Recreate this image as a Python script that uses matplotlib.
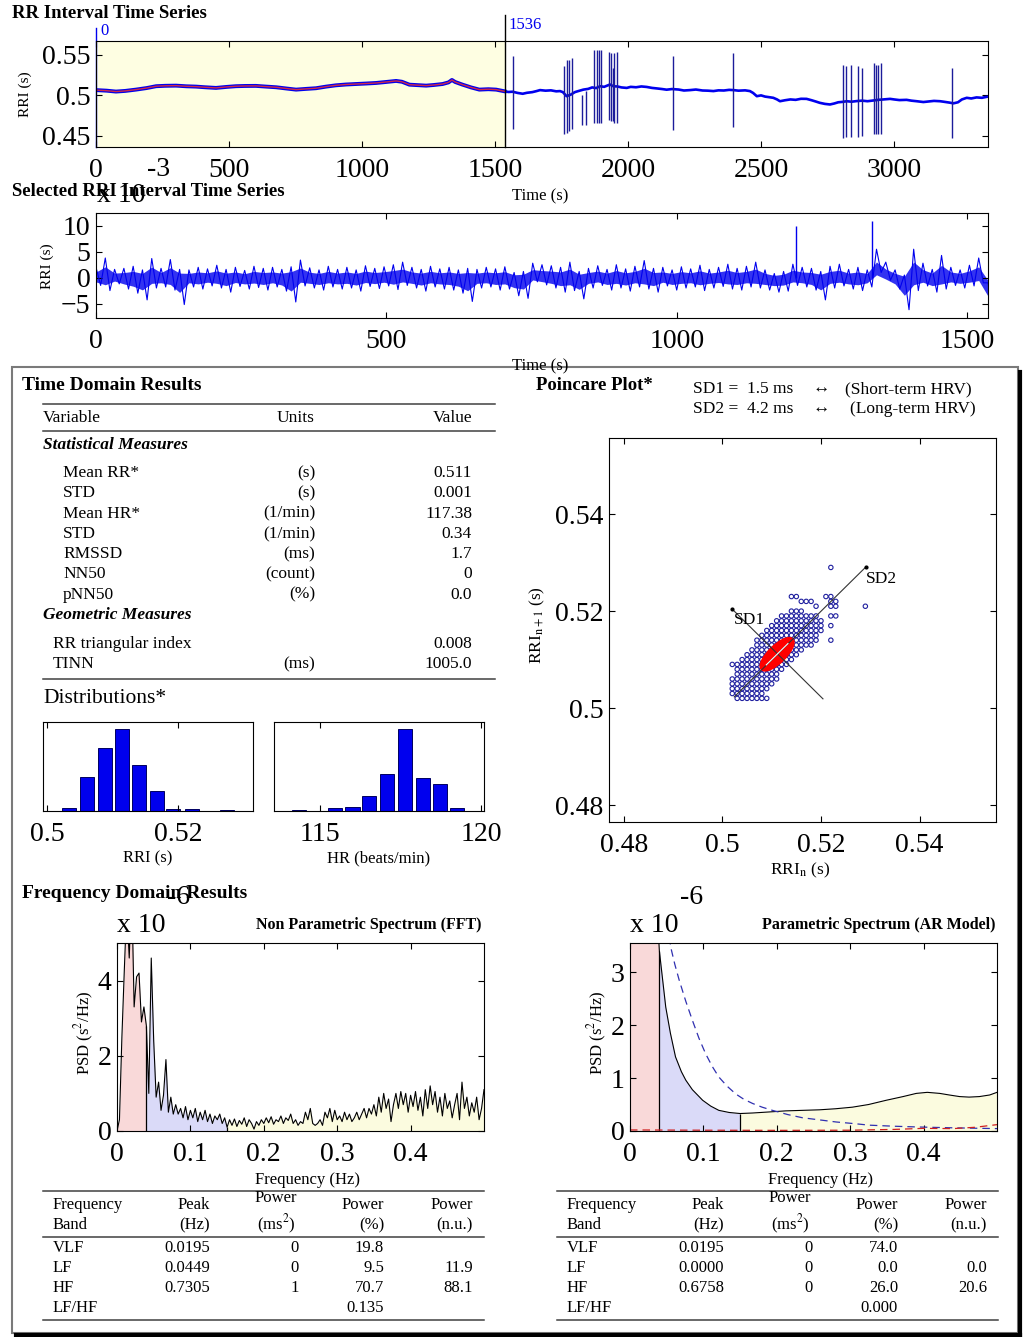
import numpy as np
import matplotlib
matplotlib.use('Agg')
import matplotlib.pyplot as plt
from matplotlib.lines import Line2D
from matplotlib.patches import Rectangle, Ellipse

plt.rcParams['font.family'] = ['Liberation Serif', 'DejaVu Sans']
plt.rcParams['mathtext.fontset'] = 'stix'
plt.rcParams['xtick.direction'] = 'in'
plt.rcParams['ytick.direction'] = 'in'
plt.rcParams['xtick.top'] = True
plt.rcParams['ytick.right'] = True
plt.rcParams['xtick.major.size'] = 4
plt.rcParams['ytick.major.size'] = 4
plt.rcParams['xtick.major.pad'] = 8
plt.rcParams['ytick.major.pad'] = 4

# ---- data: full RR interval series (s) ----
rri_t = [0, 40, 75, 110, 150, 190, 226, 260, 301, 340, 376, 410, 451, 490, 526, 560, 601, 640,
         677, 715, 752, 790, 827, 865, 902, 940, 977, 1015, 1053, 1090, 1128, 1150, 1178, 1210,
         1241, 1270, 1303, 1325, 1338, 1350, 1378, 1410, 1441, 1475, 1504, 1536,
         1550, 1566, 1585, 1604, 1620, 1640, 1655, 1669, 1690, 1710, 1730, 1744, 1755, 1769,
         1785, 1800, 1815, 1832, 1850, 1865, 1880, 1895, 1910, 1932, 1945, 1960, 1975, 1995,
         2010, 2030, 2050, 2070, 2090, 2110, 2128, 2145, 2165, 2190, 2210, 2233, 2255, 2280,
         2300, 2321, 2340, 2360, 2380, 2396, 2415, 2440, 2458, 2470, 2484, 2500, 2515, 2530,
         2546, 2560, 2571, 2590, 2610, 2630, 2650, 2671, 2690, 2705, 2721, 2740, 2759, 2775,
         2790, 2806, 2822, 2840, 2860, 2880, 2900, 2922, 2940, 2960, 2985, 3000, 3020, 3047,
         3065, 3085, 3110, 3130, 3150, 3173, 3190, 3210, 3223, 3240, 3255, 3273, 3290, 3310,
         3330, 3348]
rri_v = [0.5065, 0.5058, 0.5047, 0.5055, 0.5071, 0.5090, 0.5113, 0.5118, 0.5120, 0.5112, 0.5108,
         0.5100, 0.5092, 0.5104, 0.5113, 0.5116, 0.5117, 0.5108, 0.5100, 0.5085, 0.5071, 0.5080,
         0.5088, 0.5108, 0.5124, 0.5134, 0.5140, 0.5146, 0.5153, 0.5165, 0.5178, 0.5168, 0.5132,
         0.5126, 0.5120, 0.5128, 0.5140, 0.5160, 0.5190, 0.5165, 0.5132, 0.5098, 0.5071, 0.5076,
         0.5071, 0.5050,
         0.5042, 0.5045, 0.5030, 0.5020, 0.5032, 0.5040, 0.5052, 0.5065, 0.5058, 0.5062, 0.5050,
         0.5053, 0.5040, 0.4990, 0.5010, 0.5040, 0.5055, 0.5071, 0.5080, 0.5098, 0.5090, 0.5113,
         0.5105, 0.5134, 0.5112, 0.5110, 0.5098, 0.5092, 0.5105, 0.5100, 0.5110, 0.5104, 0.5092,
         0.5085, 0.5078, 0.5070, 0.5078, 0.5072, 0.5060, 0.5065, 0.5072, 0.5060, 0.5058, 0.5053,
         0.5062, 0.5060, 0.5068, 0.5065, 0.5058, 0.5062, 0.5053, 0.5030, 0.4990, 0.5000, 0.4985,
         0.4978, 0.4970, 0.4950, 0.4928, 0.4940, 0.4950, 0.4945, 0.4958, 0.4957, 0.4940, 0.4925,
         0.4908, 0.4895, 0.4888, 0.4900, 0.4915, 0.4920, 0.4928, 0.4922, 0.4930, 0.4935, 0.4928,
         0.4937, 0.4945, 0.4950, 0.4957, 0.4950, 0.4942, 0.4945, 0.4935, 0.4928, 0.4918, 0.4925,
         0.4932, 0.4928, 0.4920, 0.4910, 0.4902, 0.4915, 0.4950, 0.4970, 0.4962, 0.4975, 0.4970,
         0.4982]
sel_start, sel_end = 0, 1536

# ectopic spikes: time (s), upper and lower extreme (s)
spike_t = [1566, 1760, 1772, 1779, 1791, 1826, 1841, 1873, 1882, 1890, 1898, 1930, 1936, 1942,
           1948, 1957, 2168, 2396, 2807, 2819, 2838, 2866, 2881, 2926, 2932, 2940, 2951, 3217]
spike_hi = [0.548, 0.536, 0.544, 0.544, 0.546, 0.500, 0.505, 0.556, 0.556, 0.556, 0.556, 0.554,
            0.552, 0.534, 0.552, 0.554, 0.548, 0.552, 0.537, 0.536, 0.537, 0.536, 0.534, 0.540,
            0.538, 0.538, 0.540, 0.534]
spike_lo = [0.458, 0.452, 0.454, 0.456, 0.458, 0.464, 0.464, 0.466, 0.466, 0.466, 0.466, 0.470,
            0.468, 0.468, 0.466, 0.466, 0.457, 0.461, 0.447, 0.449, 0.449, 0.449, 0.450, 0.452,
            0.452, 0.452, 0.452, 0.447]

# ---- data: selected, detrended series (x 1e-3 s), sampled every 16 s: upper / lower extremes ----
sel_t = list(range(0, 1537, 16))
sel_hi = [2.0, 3.8, 1.6, 1.8, 2.2, 1.5, 3.7, 1.8, 3.5, 1.6, 1.5, 2.0, 1.7, 2.4, 1.6, 2.0, 1.4,
          2.2, 1.8, 2.0, 1.6, 2.1, 3.4, 1.9, 1.5, 2.2, 1.6, 2.0, 1.5, 2.3, 1.8, 2.1, 2.5, 3.0,
          2.0, 1.6, 2.2, 1.7, 2.0, 1.5, 1.8, 1.6, 2.0, 1.7, 2.1, 1.0, 1.2, 2.8, 2.5, 2.3, 2.0,
          3.0, 1.2, 1.8, 2.3, 1.6, 2.5, 1.7, 2.2, 3.3, 1.8, 2.0, 1.5, 2.1, 1.7, 2.4, 1.6, 2.0,
          2.6, 1.8, 2.2, 3.0, 1.5, 0.8, 1.2, 2.6, 2.0, 1.8, 1.2, 2.2, 2.6, 1.6, 2.0, 1.5, 5.5,
          3.0, 1.5, 0.5, 5.5, 2.8, 1.6, 4.3, 2.0, 1.5, 2.4, 3.8, -1.0]
sel_lo = [-1.5, -2.5, -1.2, -2.2, -3.0, -4.3, -2.0, -1.8, -2.4, -5.2, -1.8, -2.2, -1.6, -2.0,
          -2.8, -1.7, -2.2, -1.9, -2.4, -1.8, -2.6, -4.7, -1.6, -2.0, -2.4, -1.8, -2.2, -2.0,
          -2.6, -1.7, -2.1, -1.6, -2.3, -1.5, -2.0, -2.6, -1.8, -2.2, -2.4, -3.0, -4.6, -2.0,
          -1.8, -2.4, -2.2, -3.5, -4.0, -0.8, -1.4, -2.0, -2.8, -2.5, -4.1, -2.0, -1.5, -2.4,
          -2.0, -2.6, -1.8, -2.2, -2.8, -1.6, -2.4, -2.0, -1.8, -2.5, -2.0, -1.7, -2.2, -2.4,
          -1.8, -2.0, -2.4, -2.8, -2.6, -1.5, -1.8, -2.4, -4.3, -2.0, -1.6, -2.2, -2.5, -1.8,
          1.0, -0.5, -2.2, -6.2, -2.5, -1.6, -2.8, -2.2, -1.5, -2.0, -1.6, -1.0, -6.5]
sel_spike_t = [1205, 1336]
sel_spike_v = [10.0, 11.0]

# ---- time domain table ----
stat_names = ['Mean RR*', 'STD', 'Mean HR*', 'STD', 'RMSSD', 'NN50', 'pNN50']
stat_units = ['(s)', '(s)', '(1/min)', '(1/min)', '(ms)', '(count)', '(%)']
stat_values = ['0.511', '0.001', '117.38', '0.34', '1.7', '0', '0.0']
geo_names = ['RR triangular index', 'TINN']
geo_units = ['', '(ms)']
geo_values = ['0.008', '1005.0']

# ---- distributions ----
rri_bins = [0.50336, 0.50611, 0.50885, 0.51145, 0.51405, 0.51679, 0.51924, 0.52214, 0.52481, 0.52748]
rri_counts = [4, 40, 74, 96, 54, 23, 2, 2, 0, 1]
hr_bins = [114.35, 114.91, 115.47, 116.00, 116.52, 117.08, 117.64, 118.20, 118.73, 119.25]
hr_counts = [1, 0, 3, 5, 17, 43, 96, 38, 31, 3]

# ---- poincare: rows of the point cloud (ms above 500): y, first x, last x ----
pc_rows = [(502, 503, 509), (503, 502, 508), (504, 502, 509), (505, 502, 510), (506, 502, 511),
           (507, 503, 511), (508, 503, 512), (509, 502, 513), (510, 504, 514), (511, 505, 515),
           (512, 506, 516), (513, 507, 518), (514, 507, 519), (515, 508, 519), (516, 509, 520),
           (517, 510, 520), (518, 511, 520), (519, 512, 519), (520, 514, 516)]
pc_extra_x = [522, 517, 519, 522, 521, 522, 522, 523, 523, 522, 514, 522, 529, 515, 516, 518, 523, 522]
pc_extra_y = [514, 522, 521, 523, 523, 522, 521, 521, 522, 517, 523, 519, 521, 523, 522, 522, 519, 529]
sd1, sd2 = 1.5, 4.2
rr_mean = 0.5111
sd1_line_x = [0.5020, 0.5204]
sd1_line_y = [0.5204, 0.5019]
sd2_line_x = [0.5024, 0.5291]
sd2_line_y = [0.5023, 0.5291]

# ---- spectra (x 1e-6 s^2/Hz) ----
fft_psd = [0.0, 0.3, 2.5, 4.3, 6.0, 4.6, 6.5, 3.3, 4.1, 4.2, 2.9, 3.3, 2.8, 1.0, 4.6, 2.4, 0.9,
           1.3, 0.55, 0.95, 1.9, 0.5, 0.9, 0.45, 0.7, 0.45, 0.6, 0.35, 0.65, 0.3, 0.55, 0.35, 0.6,
           0.25, 0.5, 0.3, 0.55, 0.25, 0.45, 0.2, 0.4, 0.3, 0.45, 0.2, 0.35, 0.1, 0.3, 0.15, 0.32,
           0.12, 0.28, 0.18, 0.35, 0.12, 0.3, 0.2, 0.05, 0.25, 0.15, 0.3, 0.2, 0.35, 0.22, 0.38,
           0.18, 0.3, 0.25, 0.4, 0.2, 0.35, 0.28, 0.45, 0.2, 0.3, 0.15, 0.25, 0.2, 0.5, 0.3, 0.6,
           0.2, 0.15, 0.2, 0.3, 0.15, 0.5, 0.35, 0.6, 0.25, 0.55, 0.3, 0.4, 0.25, 0.5, 0.3, 0.45,
           0.25, 0.35, 0.5, 0.3, 0.45, 0.6, 0.35, 0.6, 0.45, 0.7, 0.4, 0.9, 0.5, 1.0, 0.6, 0.85,
           0.25, 0.7, 1.0, 0.6, 1.05, 0.7, 1.0, 0.5, 0.95, 0.65, 1.05, 0.55, 0.9, 0.4, 1.1, 0.6,
           1.2, 0.7, 1.05, 0.5, 0.9, 0.4, 1.0, 0.6, 0.8, 0.35, 0.7, 1.0, 0.3, 1.3, 0.6, 0.9, 0.4,
           0.75, 0.5, 0.9, 0.3, 0.6, 1.1]
fft_freq = [i / 300 for i in range(len(fft_psd))]

ar_freq = [0.0, 0.01, 0.02, 0.03, 0.04, 0.0487, 0.055, 0.062, 0.07, 0.076, 0.085, 0.099, 0.11,
           0.121, 0.135, 0.15, 0.167, 0.19, 0.212, 0.235, 0.258, 0.28, 0.303, 0.325, 0.349,
           0.372, 0.39, 0.405, 0.422, 0.435, 0.449, 0.462, 0.476, 0.49, 0.5]
ar_psd = [40, 22, 11, 6.0, 3.4, 2.34, 1.85, 1.40, 1.12, 0.96, 0.78, 0.58, 0.47, 0.39, 0.35, 0.33,
          0.34, 0.36, 0.38, 0.39, 0.40, 0.42, 0.45, 0.50, 0.58, 0.65, 0.71, 0.73, 0.71, 0.68,
          0.65, 0.64, 0.65, 0.68, 0.73]
ar_lf_freq = [0.045, 0.0555, 0.061, 0.067, 0.076, 0.085, 0.094, 0.103, 0.112, 0.121, 0.132, 0.144,
              0.155, 0.167, 0.18, 0.194, 0.215, 0.235, 0.258, 0.281, 0.305, 0.326, 0.36, 0.394,
              0.44, 0.5]
ar_lf_psd = [4.6, 3.47, 3.15, 2.85, 2.45, 2.09, 1.75, 1.46, 1.22, 1.02, 0.85, 0.70, 0.60, 0.52,
             0.45, 0.39, 0.31, 0.25, 0.21, 0.17, 0.14, 0.11, 0.09, 0.075, 0.06, 0.045]
ar_hf_freq = [0.0, 0.1, 0.2, 0.3, 0.36, 0.4, 0.44, 0.47, 0.5]
ar_hf_psd = [0.02, 0.015, 0.012, 0.015, 0.03, 0.05, 0.045, 0.07, 0.12]

vlf_lim, lf_lim, hf_lim = 0.04, 0.15, 0.5
fft_rows = [['VLF', '0.0195', '0', '19.8', ''],
            ['LF', '0.0449', '0', '9.5', '11.9'],
            ['HF', '0.7305', '1', '70.7', '88.1'],
            ['LF/HF', '', '', '0.135', '']]
ar_rows = [['VLF', '0.0195', '0', '74.0', ''],
           ['LF', '0.0000', '0', '0.0', '0.0'],
           ['HF', '0.6758', '0', '26.0', '20.6'],
           ['LF/HF', '', '', '0.000', '']]

# ---- figure helpers (pixel positions) ----
W, H = 1024, 1337
fig = plt.figure(figsize=(W / 100, H / 100), dpi=100)


def add_ax(l, t, r, b):
    return fig.add_axes([l / W, 1 - b / H, (r - l) / W, (b - t) / H])


def txt(x, y, s, **kw):
    kw.setdefault('va', 'center')
    return fig.text(x / W, 1 - y / H, s, **kw)


def hline(y, x0, x1):
    fig.add_artist(Line2D([x0 / W, x1 / W], [1 - y / H, 1 - y / H], color='#404040', lw=1.1))


gfmt = matplotlib.ticker.FormatStrFormatter('%g')
BIG = 20
blue = '#0000ee'

# ---- RR interval time series ----
ax = add_ax(96, 41, 988, 147)
ax.axvspan(sel_start, sel_end, color='#fefee2', lw=0)
n_sel = sum(1 for t in rri_t if t <= sel_end)
ax.plot(rri_t[:n_sel], rri_v[:n_sel], color=blue, lw=2.8)
ax.plot(rri_t[n_sel - 1:], rri_v[n_sel - 1:], color=blue, lw=1.9)
ax.vlines(spike_t, spike_lo, spike_hi, color='#1c1c9a', lw=1.0)
ax.plot(rri_t[:n_sel], rri_v[:n_sel], color='#d02a4a', lw=1.0)
ax.axvline(sel_end, ymax=1.25, color='k', lw=1.0, clip_on=False)
ax.axvline(sel_start, ymax=1.12, color=blue, lw=1.0, clip_on=False)
ax.text(sel_start + 15, 0.5695, str(sel_start), color=blue, fontsize=12, va='bottom')
ax.text(sel_end + 15, 0.5765, str(sel_end), color=blue, fontsize=12, va='bottom')
ax.set_xlim(0, 3353)
ax.set_ylim(0.4364, 0.567)
ax.set_yticks([0.45, 0.5, 0.55])
ax.set_xticks([0, 500, 1000, 1500, 2000, 2500, 3000])
ax.yaxis.set_major_formatter(gfmt)
ax.tick_params(labelsize=BIG)
txt(12, 14, 'RR Interval Time Series', fontsize=13.5, fontweight='bold')
txt(540, 196, 'Time (s)', fontsize=12, ha='center')
txt(25, 94, 'RRI (s)', fontsize=11, rotation=90, ha='center')

# ---- selected RRI (detrended) ----
ax = add_ax(96, 213, 988, 318)
ax.fill_between(sel_t, np.array(sel_hi) * 0.55, np.array(sel_lo) * 0.55, color=blue, alpha=0.8, lw=0)
zt = np.ravel(np.column_stack([sel_t, np.array(sel_t) + 8]))
zv = np.ravel(np.column_stack([sel_hi, sel_lo]))
ax.plot(zt, zv, color=blue, lw=0.8)
ax.vlines(sel_spike_t, 0, sel_spike_v, color=blue, lw=1.0)
ax.set_xlim(0, 1536)
ax.set_ylim(-7.8, 12.5)
ax.set_yticks([-5, 0, 5, 10])
ax.set_xticks([0, 500, 1000, 1500])
ax.tick_params(labelsize=BIG)
txt(12, 192, 'Selected RRI Interval Time Series', fontsize=13.5, fontweight='bold')
txt(97, 195, 'x 10', fontsize=BIG)
txt(147, 170, '-3', fontsize=BIG)
txt(47, 266, 'RRI (s)', fontsize=11, rotation=90, ha='center')

# ---- results frame ----
fig.add_artist(Rectangle((12 / W, 1 - 1333 / H), 1006 / W, 966 / H, transform=fig.transFigure,
                         fill=False, edgecolor='#7a7a7a', lw=1.5))
fig.add_artist(Line2D([1020 / W, 1020 / W], [1 - 372 / H, 1 - 1335 / H], color='k', lw=3))
fig.add_artist(Line2D([16 / W, 1020 / W], [1 - 1335 / H, 1 - 1335 / H], color='k', lw=3))
txt(540, 366, 'Time (s)', fontsize=12, ha='center')

# ---- time domain table ----
TS = 12.5
txt(22, 385, 'Time Domain Results', fontsize=14, fontweight='bold')
hline(404, 43, 495)
hline(431, 43, 495)
hline(679, 43, 495)
txt(43, 418, 'Variable', fontsize=TS)
txt(296, 418, 'Units', fontsize=TS, ha='center')
txt(472, 418, 'Value', fontsize=TS, ha='right')
txt(43, 445, 'Statistical Measures', fontsize=TS, fontweight='bold', style='italic')
for i, (n, u, v) in enumerate(zip(stat_names, stat_units, stat_values)):
    y = 473 + i * 20.3
    txt(63, y, n, fontsize=TS)
    txt(315, y, u, fontsize=TS, ha='right')
    txt(472, y, v, fontsize=TS, ha='right')
txt(43, 615, 'Geometric Measures', fontsize=TS, fontweight='bold', style='italic')
for i, (n, u, v) in enumerate(zip(geo_names, geo_units, geo_values)):
    y = 644 + i * 20
    txt(53, y, n, fontsize=TS)
    txt(315, y, u, fontsize=TS, ha='right')
    txt(472, y, v, fontsize=TS, ha='right')
txt(43, 698, 'Distributions*', fontsize=15.5)

# ---- histograms ----
ax = add_ax(43, 722, 253, 811)
ax.bar(rri_bins, rri_counts, width=0.00214, color=blue, edgecolor='#000060', lw=0.7)
ax.set_xlim(0.4994, 0.5314)
ax.set_ylim(0, 104)
ax.set_xticks([0.5, 0.52])
ax.xaxis.set_major_formatter(gfmt)
ax.set_yticks([])
ax.tick_params(labelsize=BIG, pad=8)
txt(148, 858, 'RRI (s)', fontsize=12, ha='center')

ax = add_ax(274, 722, 484, 811)
ax.bar(hr_bins, hr_counts, width=0.45, color=blue, edgecolor='#000060', lw=0.7)
ax.set_xlim(113.57, 120.09)
ax.set_ylim(0, 104)
ax.set_xticks([115, 120])
ax.set_yticks([])
ax.tick_params(labelsize=BIG, pad=8)
txt(379, 858, 'HR (beats/min)', fontsize=12, ha='center')

# ---- poincare plot ----
pc_x, pc_y = [], []
for yv, x0, x1 in pc_rows:
    for xv in range(x0, x1 + 1):
        pc_x.append(xv / 1000)
        pc_y.append(yv / 1000)
pc_x += [v / 1000 for v in pc_extra_x]
pc_y += [v / 1000 for v in pc_extra_y]

ax = add_ax(609, 438, 996, 822)
ax.scatter(pc_x, pc_y, s=10, facecolors='none', edgecolors='#1f1f9f', linewidths=0.8)
ax.plot(sd2_line_x, sd2_line_y, color='#333333', lw=0.8)
ax.plot(sd1_line_x, sd1_line_y, color='#333333', lw=0.8)
ax.plot(sd2_line_x[1], sd2_line_y[1], marker='o', ms=2, color='k')
ax.plot(sd1_line_x[0], sd1_line_y[0], marker='o', ms=2, color='k')
ax.add_patch(Ellipse((rr_mean, rr_mean), 2 * sd2 / 1000, 2 * sd1 / 1000, angle=45,
                     facecolor='red', edgecolor='red', lw=3))
ax.plot([rr_mean - 0.0022, rr_mean + 0.0022], [rr_mean - 0.0022, rr_mean + 0.0022], color='white', lw=0.8)
ax.text(0.5023, 0.5182, 'SD1', fontsize=12.5, va='center')
ax.text(0.5292, 0.5266, 'SD2', fontsize=12.5, va='center')
ax.set_xlim(0.477, 0.5555)
ax.set_ylim(0.4765, 0.5557)
ax.set_xticks([0.48, 0.5, 0.52, 0.54])
ax.set_yticks([0.48, 0.5, 0.52, 0.54])
ax.xaxis.set_major_formatter(gfmt)
ax.yaxis.set_major_formatter(gfmt)
ax.tick_params(labelsize=BIG)
txt(536, 385, 'Poincare Plot*', fontsize=13.5, fontweight='bold')
txt(693, 389, 'SD1 =  %.1f ms' % sd1, fontsize=12.5)
txt(821, 389, '\u2194', fontsize=12.5, ha='center')
txt(845, 389, '(Short-term HRV)', fontsize=12.5)
txt(693, 409, 'SD2 =  %.1f ms' % sd2, fontsize=12.5)
txt(821, 409, '\u2194', fontsize=12.5, ha='center')
txt(850, 409, '(Long-term HRV)', fontsize=12.5)
txt(800, 870, 'RRI$_{\\mathrm{n}}$ (s)', fontsize=12.5, ha='center')
txt(537, 625, 'RRI$_{\\mathrm{n+1}}$ (s)', fontsize=12.5, rotation=90, ha='center')

# ---- spectra ----
band_cols = ['#f9d9d9', '#dadaf8', '#fbfbdf']


def spectrum_axes(l, r, f, p, ymax, yticks, title):
    ax = add_ax(l, 943, r, 1131)
    f = np.array(f)
    p = np.array(p)
    ax.fill_between(f, p, where=f <= vlf_lim, color=band_cols[0], lw=0)
    ax.fill_between(f, p, where=(f >= vlf_lim) & (f <= lf_lim), color=band_cols[1], lw=0)
    ax.fill_between(f, p, where=f >= lf_lim, color=band_cols[2], lw=0)
    ax.plot(f, p, color='k', lw=0.8)
    for b in (vlf_lim, lf_lim):
        ax.vlines(b, 0, p[np.argmin(abs(f - b))], color='k', lw=0.9)
    ax.set_xlim(0, 0.5)
    ax.set_ylim(0, ymax)
    ax.set_xticks([0, 0.1, 0.2, 0.3, 0.4])
    ax.set_yticks(yticks)
    ax.xaxis.set_major_formatter(gfmt)
    ax.tick_params(labelsize=BIG)
    txt(l, 925, 'x 10', fontsize=BIG)
    txt(l + 50, 898, '-6', fontsize=BIG)
    txt(r - 2, 925, title, fontsize=11.5, fontweight='bold', ha='right')
    txt((l + r) / 2 + 7, 1180, 'Frequency (Hz)', fontsize=12, ha='center')
    txt(l - 33, 1033, 'PSD (s$^2$/Hz)', fontsize=12, rotation=90, ha='center')
    return ax


txt(22, 893, 'Frequency Domain Results', fontsize=14, fontweight='bold')
spectrum_axes(117, 484, fft_freq, fft_psd, 5.0, [0, 2, 4], 'Non Parametric Spectrum (FFT)')
ax = spectrum_axes(630, 997, ar_freq, ar_psd, 3.55, [0, 1, 2, 3], 'Parametric Spectrum (AR Model)')
ax.plot(ar_lf_freq, ar_lf_psd, color='#3030b0', lw=0.9, ls=(0, (6, 4)))
ax.plot(ar_hf_freq, ar_hf_psd, color='#d02020', lw=0.9, ls=(0, (6, 4)))


# ---- frequency tables ----
def freq_table(x0, rows):
    hline(1191, x0 - 10, x0 + 431)
    hline(1237, x0 - 10, x0 + 431)
    hline(1320, x0 - 10, x0 + 431)
    cols = [x0 + 157, x0 + 246, x0 + 331, x0 + 420]
    fs = 12
    txt(x0, 1205, 'Frequency', fontsize=fs)
    txt(x0, 1225, 'Band', fontsize=fs)
    txt(cols[0], 1205, 'Peak', fontsize=fs, ha='right')
    txt(cols[0], 1225, '(Hz)', fontsize=fs, ha='right')
    txt(cols[1] - 23, 1198, 'Power', fontsize=fs, ha='center')
    txt(cols[1] - 23, 1224, '(ms$^2$)', fontsize=fs, ha='center')
    txt(cols[2], 1205, 'Power', fontsize=fs, ha='right')
    txt(cols[2], 1225, '(%)', fontsize=fs, ha='right')
    txt(cols[3], 1205, 'Power', fontsize=fs, ha='right')
    txt(cols[3], 1225, '(n.u.)', fontsize=fs, ha='right')
    for i, row in enumerate(rows):
        y = 1248 + i * 20
        txt(x0, y, row[0], fontsize=fs)
        for c, v in zip(cols, row[1:]):
            txt(c, y, v, fontsize=fs, ha='right')


freq_table(53, fft_rows)
freq_table(567, ar_rows)

fig.savefig('out.png', dpi=100)
